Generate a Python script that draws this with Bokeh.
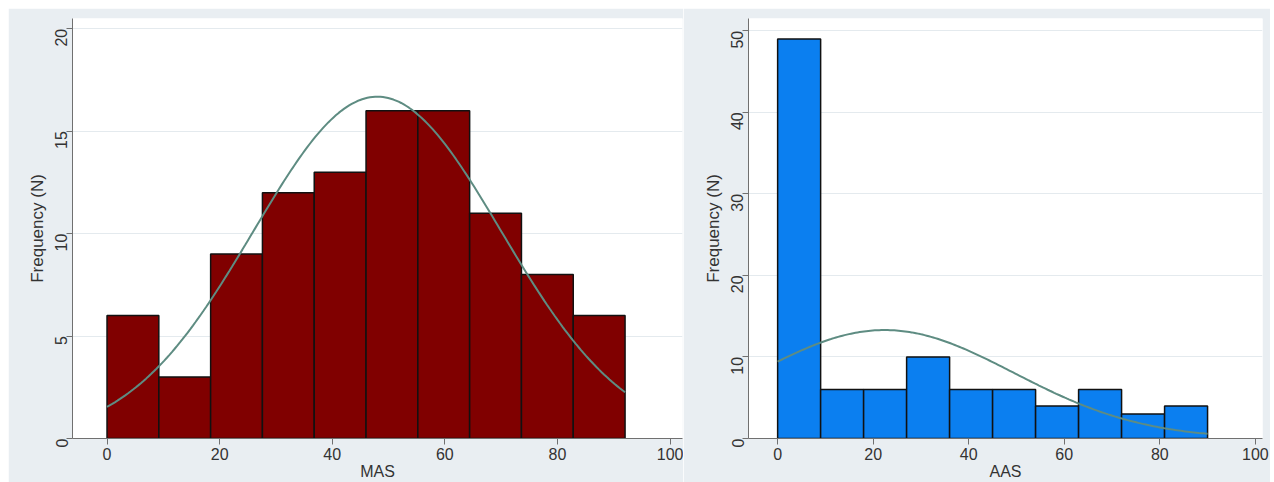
import math
import numpy as np
from bokeh.plotting import figure
from bokeh.layouts import row
from bokeh.models import Range1d, FixedTicker
from bokeh.embed import file_html
from bokeh.resources import INLINE

# ---- data ----
mas_counts = [6, 3, 9, 12, 13, 16, 16, 11, 8, 6]
mas_bin_start = 0.0
mas_bin_width = 9.2
mas_mean = 48.0
mas_sd = 22.0

aas_counts = [49, 6, 6, 10, 6, 6, 4, 6, 3, 4]
aas_bin_start = 0.0
aas_bin_width = 9.0
aas_mean = 22.4
aas_sd = 27.0

x_ticks = [0, 20, 40, 60, 80, 100]
mas_y_ticks = [0, 5, 10, 15, 20]
aas_y_ticks = [0, 10, 20, 30, 40, 50]

BG = "#e9eef2"
FONT = "Liberation Sans"
AXIS_COL = "#707070"
TEXT_COL = "#333333"
CURVE_COL = "#5e8c82"


def make_panel(counts, start, width, mean, sd, xr, yr, yticks, xlabel, color,
               w, h, bl, br, bt, bb):
    p = figure(width=w, height=h, x_range=Range1d(*xr), y_range=Range1d(*yr),
               output_backend="svg", toolbar_location=None,
               min_border_left=bl, min_border_right=br,
               min_border_top=bt, min_border_bottom=bb,
               background_fill_color="white", border_fill_color=BG,
               outline_line_color=None)
    n = len(counts)
    lefts = [start + i * width for i in range(n)]
    rights = [l + width for l in lefts]
    p.quad(left=lefts, right=rights, bottom=0, top=counts,
           fill_color=color, line_color="#111111", line_width=1.5)
    total = sum(counts)
    xs = np.linspace(start, start + n * width, 200)
    ys = total * width * np.exp(-0.5 * ((xs - mean) / sd) ** 2) / (sd * math.sqrt(2 * math.pi))
    p.line(xs, ys, line_color=CURVE_COL, line_width=2)

    p.xgrid.visible = False
    p.ygrid.ticker = FixedTicker(ticks=yticks)
    p.ygrid.grid_line_color = "#e4eaee"
    p.ygrid.grid_line_width = 1

    p.xaxis.ticker = FixedTicker(ticks=x_ticks)
    p.yaxis.ticker = FixedTicker(ticks=yticks)
    for ax in (p.xaxis[0], p.yaxis[0]):
        ax.axis_line_color = AXIS_COL
        ax.major_tick_line_color = AXIS_COL
        ax.minor_tick_line_color = None
        ax.major_tick_out = 6
        ax.major_tick_in = 0
        ax.major_label_text_font = FONT
        ax.major_label_text_font_size = "16px"
        ax.major_label_text_color = TEXT_COL
        ax.axis_label_text_font = FONT
        ax.axis_label_text_font_size = "16px"
        ax.axis_label_text_font_style = "normal"
        ax.axis_label_text_color = TEXT_COL
    p.yaxis.axis_label_text_font_size = "17px"
    p.yaxis.major_label_orientation = math.pi / 2
    p.yaxis.major_label_standoff = 5
    p.yaxis.axis_label_standoff = 0
    p.yaxis.axis_label = "Frequency (N)"
    p.xaxis.major_label_standoff = 3
    p.xaxis.axis_label_standoff = 0
    p.xaxis.axis_label = xlabel
    return p


p1 = make_panel(mas_counts, mas_bin_start, mas_bin_width, mas_mean, mas_sd,
                (-6.13, 102.2), (0, 20.5), mas_y_ticks, "MAS", "#800000",
                675, 474, 64, 1, 9, 43)
p2 = make_panel(aas_counts, aas_bin_start, aas_bin_width, aas_mean, aas_sd,
                (-6.1, 101.5), (0, 51.5), aas_y_ticks, "AAS", "#0b7ff0",
                587, 474, 65, 8, 10, 39)

layout = row(p1, p2, margin=(8, 0, 0, 8))
open("out.html", "w").write(file_html(layout, INLINE))
